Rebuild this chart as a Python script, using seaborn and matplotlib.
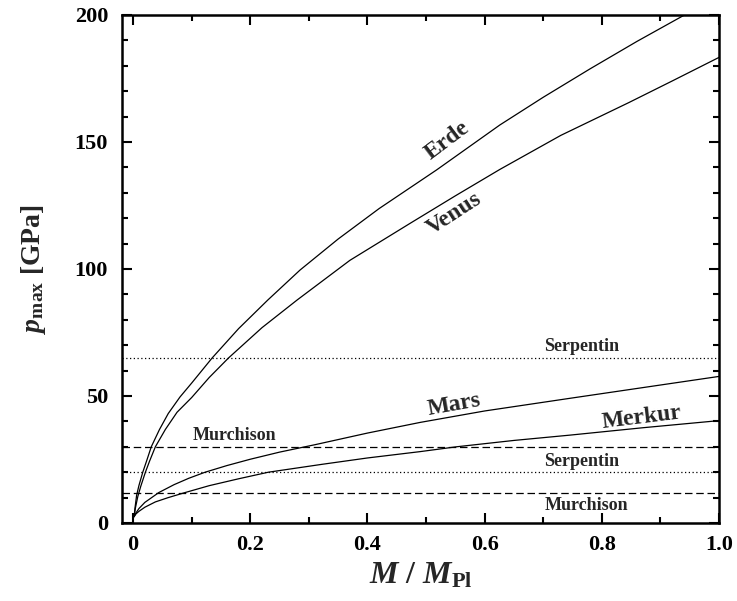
import matplotlib
matplotlib.use("Agg")
import matplotlib.pyplot as plt
import seaborn as sns
from matplotlib.ticker import MultipleLocator

# ---- data ----
erde_x = [0.0017, 0.003, 0.006, 0.010, 0.0165, 0.023, 0.031, 0.045, 0.060, 0.080, 0.100, 0.135,
          0.180, 0.230, 0.285, 0.350, 0.420, 0.518, 0.626, 0.700, 0.780, 0.860, 0.938, 1.0]
erde_y = [2.5, 5.5, 10.9, 14.8, 20.0, 24.4, 30.0, 36.8, 43.1, 49.6, 55.1, 65.0,
          76.5, 87.8, 99.6, 111.8, 123.8, 139.0, 156.7, 167.6, 178.8, 189.6, 199.6, 207.4]

venus_x = [0.0017, 0.004, 0.008, 0.013, 0.021, 0.028, 0.038, 0.055, 0.075, 0.100, 0.130, 0.163,
           0.220, 0.280, 0.370, 0.473, 0.550, 0.626, 0.730, 0.846, 0.920, 1.0]
venus_y = [2.5, 6.0, 10.4, 14.4, 20.0, 24.3, 30.0, 36.8, 43.6, 49.4, 57.3, 65.0,
           76.9, 87.8, 103.4, 118.0, 128.8, 139.2, 152.6, 165.5, 174.0, 183.3]

mars_x = [0.0017, 0.005, 0.010, 0.020, 0.044, 0.070, 0.095, 0.123, 0.160, 0.200, 0.250,
          0.310, 0.400, 0.490, 0.600, 0.746, 0.870, 1.0]
mars_y = [2.5, 4.0, 5.7, 8.1, 12.0, 15.1, 17.6, 20.0, 22.6, 25.1, 27.9,
          30.8, 35.4, 39.6, 44.1, 49.1, 53.3, 57.7]

merkur_x = [0.0017, 0.005, 0.010, 0.020, 0.038, 0.060, 0.089, 0.130, 0.180, 0.231, 0.3225,
            0.400, 0.490, 0.552, 0.650, 0.746, 0.870, 1.0]
merkur_y = [2.5, 3.6, 4.6, 6.2, 8.3, 10.0, 12.0, 14.7, 17.4, 20.0, 23.1,
            25.6, 28.1, 30.0, 32.5, 34.6, 37.5, 40.3]

planet_names = ["Erde", "Venus", "Mars", "Merkur"]
planet_label_x = [0.536, 0.548, 0.548, 0.868]
planet_label_y = [150.5, 121.6, 46.5, 41.6]
planet_label_rot = [37, 33, 10, 7]

ref_values = [65, 30, 20, 12]
ref_names = ["Serpentin", "Murchison", "Serpentin", "Murchison"]
ref_styles = [":", "--", ":", "--"]
ref_label_x = [0.765, 0.173, 0.765, 0.773]
ref_label_y = [69.4, 34.3, 24.1, 6.8]

x_ticks = [0, 0.2, 0.4, 0.6, 0.8, 1.0]
x_ticklabels = ["0", "0.2", "0.4", "0.6", "0.8", "1.0"]
y_ticks = [0, 50, 100, 150, 200]

# ---- styling ----
sns.set_theme(style="ticks")
plt.rcParams["font.family"] = ["Liberation Serif", "DejaVu Serif"]
plt.rcParams["font.weight"] = "bold"
plt.rcParams["axes.labelweight"] = "bold"
plt.rcParams["mathtext.fontset"] = "custom"
plt.rcParams["mathtext.it"] = "Liberation Serif:italic:bold"
plt.rcParams["mathtext.rm"] = "Liberation Serif:bold"
plt.rcParams["mathtext.bf"] = "Liberation Serif:bold"

fig = plt.figure(figsize=(7.37, 6.01), dpi=100)
ax = fig.add_axes([0.1655, 0.1298, 0.8101, 0.8453])

curves = [(erde_x, erde_y), (venus_x, venus_y), (mars_x, mars_y), (merkur_x, merkur_y)]
for (cx, cy) in curves:
    sns.lineplot(x=cx, y=cy, ax=ax, color="black", linewidth=0.9,
                 sort=False, estimator=None)

for val, style in zip(ref_values, ref_styles):
    if style == ":":
        ax.axhline(val, color="black", linewidth=0.9, linestyle=(0, (1, 2)))
    else:
        ax.axhline(val, color="black", linewidth=0.9, linestyle=(0, (6, 3)))

for name, lx, ly, rot in zip(planet_names, planet_label_x, planet_label_y, planet_label_rot):
    ax.text(lx, ly, name, rotation=rot, ha="center", va="center",
            fontsize=17, fontweight="bold", rotation_mode="anchor")

for name, lx, ly in zip(ref_names, ref_label_x, ref_label_y):
    ax.text(lx, ly, name, ha="center", va="center", fontsize=13, fontweight="bold")

ax.set_xlim(-0.019, 1.0)
ax.set_ylim(0, 200)
ax.set_xticks(x_ticks)
ax.set_xticklabels(x_ticklabels)
ax.set_yticks(y_ticks)
ax.xaxis.set_minor_locator(MultipleLocator(0.1))
ax.yaxis.set_minor_locator(MultipleLocator(10))
ax.tick_params(which="both", direction="in", top=True, right=True, width=1.5, colors="black")
ax.tick_params(which="major", length=7)
ax.tick_params(which="minor", length=4)
ax.tick_params(axis="x", which="major", pad=9, labelsize=16)
ax.tick_params(axis="y", which="major", pad=10, labelsize=16)
for lab in ax.get_xticklabels() + ax.get_yticklabels():
    lab.set_fontweight("bold")
for sp in ax.spines.values():
    sp.set_linewidth(1.8)
    sp.set_color("black")
    sp.set_visible(True)

ax.set_xlabel(r"$M$ / $M_{\mathrm{Pl}}$", fontsize=23, fontweight="bold", labelpad=4)
ax.set_ylabel(r"$p_{\mathrm{max}}$ [GPa]", fontsize=20, fontweight="bold", labelpad=19)

fig.savefig("out.png", dpi=100)
